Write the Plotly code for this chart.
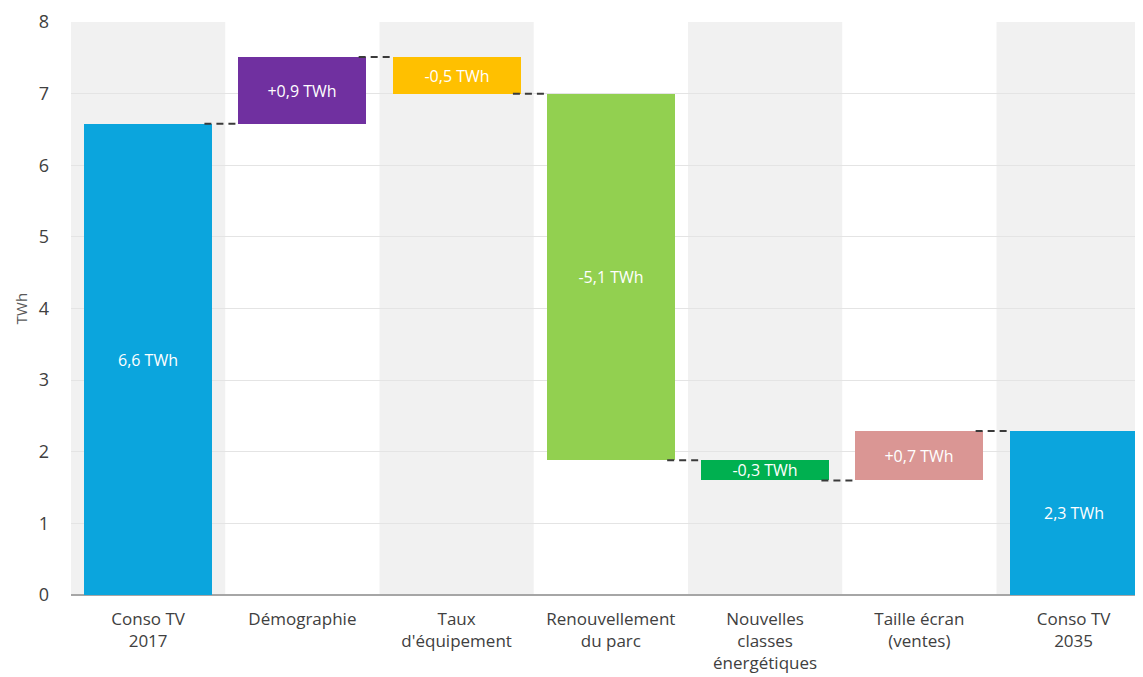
import plotly.graph_objects as go

# Données (TWh)
categories = ["Conso TV<br>2017", "Démographie", "Taux<br>d'équipement",
              "Renouvellement<br>du parc", "Nouvelles<br>classes<br>énergétiques",
              "Taille écran<br>(ventes)", "Conso TV<br>2035"]
start_value = 6.58
deltas = [0.93, -0.51, -5.12, -0.28, 0.69]
labels = ["6,6 TWh", "+0,9 TWh", "-0,5 TWh", "-5,1 TWh", "-0,3 TWh", "+0,7 TWh", "2,3 TWh"]
colors = ["#0ba5dd", "#7030a0", "#ffc000", "#92d050", "#00b050", "#da9694", "#0ba5dd"]

# Calcul des bases et hauteurs
bases = [0]
heights = [start_value]
level = start_value
levels = [start_value]
for d in deltas:
    new_level = level + d
    bases.append(min(level, new_level))
    heights.append(abs(d))
    level = new_level
    levels.append(level)
bases.append(0)
heights.append(level)

x = list(range(len(categories)))
bar_w = 0.83

fig = go.Figure()

fig.add_trace(go.Bar(
    x=x, y=heights, base=bases, width=bar_w,
    marker=dict(color=colors, line=dict(width=0)),
    text=labels, textposition="inside", insidetextanchor="middle",
    textangle=0, textfont=dict(color="white", size=16, family="Open Sans"),
    hoverinfo="skip", showlegend=False,
))

# Lignes pointillées entre les barres
for i in range(len(categories) - 1):
    fig.add_trace(go.Scatter(
        x=[i + bar_w / 2 - 0.05, i + 1 - bar_w / 2], y=[levels[i], levels[i]],
        mode="lines", line=dict(color="#3a3a3a", width=2, dash="7px,5px"),
        hoverinfo="skip", showlegend=False,
    ))

# Bandes grises alternées
for i in range(0, len(categories), 2):
    fig.add_shape(type="rect", xref="x", yref="y", x0=i - 0.5, x1=i + 0.5, y0=0, y1=8,
                  fillcolor="#f1f1f1", line=dict(width=0), layer="below")

# la page a une marge de 8px : on compense (le graphique est coupé à droite)
fig.update_layout(
    width=1135, height=669,
    margin=dict(l=63, r=0, t=14, b=82),
    plot_bgcolor="white", paper_bgcolor="white",
    font=dict(family="Open Sans", color="#404040"),
    bargap=0,
    uniformtext=dict(minsize=16, mode="show"),
)
fig.update_xaxes(
    tickvals=x, ticktext=categories, range=[-0.5, 6.45], automargin=False,
    showgrid=False, zeroline=False, showline=False,
    tickfont=dict(size=17, color="#404040"), ticks="", ticklabelstandoff=12,
)
fig.update_yaxes(
    range=[0, 8], dtick=1, showgrid=True, gridcolor="#e4e4e4", gridwidth=1,
    zeroline=True, zerolinecolor="#a6a6a6", zerolinewidth=2, automargin=False,
    tickfont=dict(size=18, color="#404040"), ticklabelstandoff=21,
    title=dict(text="TWh", font=dict(size=15, color="#595959"), standoff=7),
)

fig.write_html("out.html")
